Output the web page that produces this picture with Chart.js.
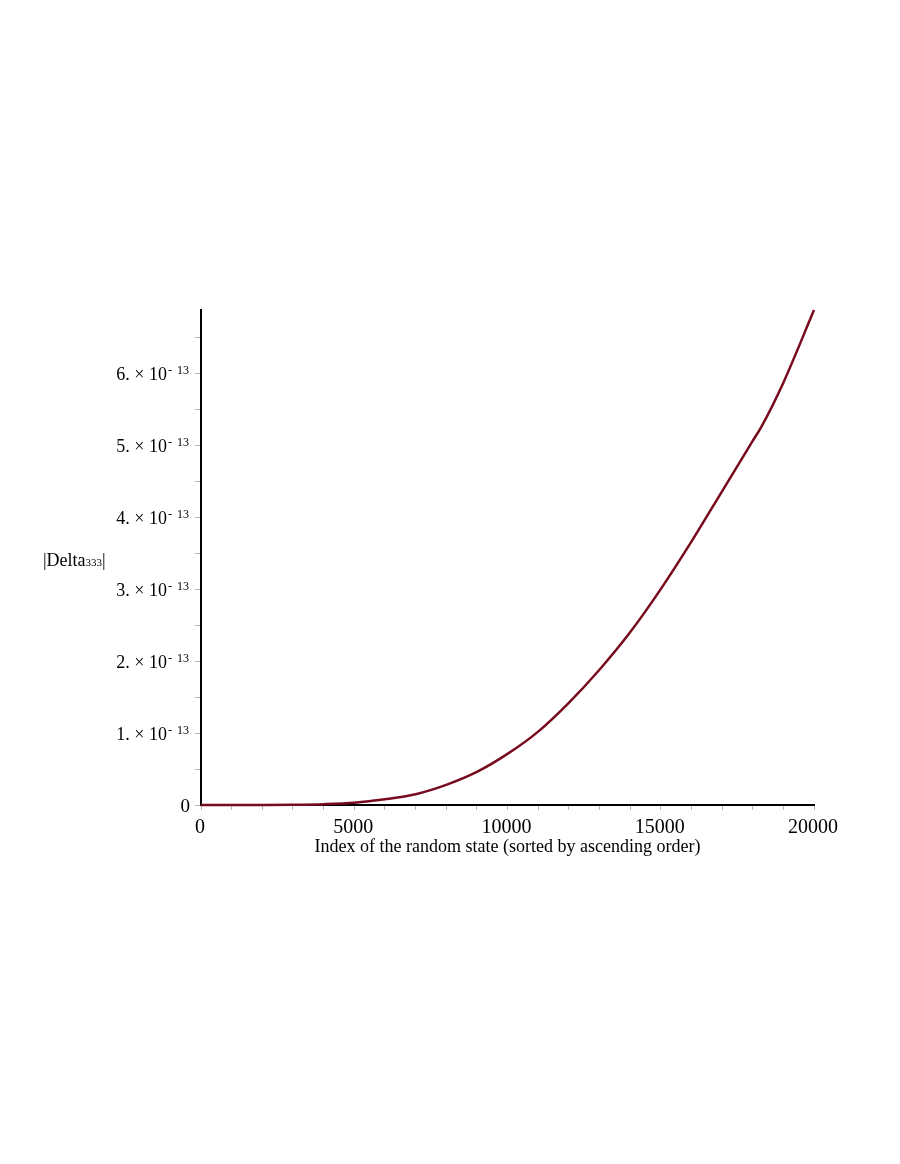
<!DOCTYPE html>
<html>
<head>
<meta charset="utf-8">
<title>|Delta333| vs index</title>
<script src="https://cdn.jsdelivr.net/npm/chart.js@4.4.1/dist/chart.umd.min.js"></script>
<style>
  html, body { margin: 0; padding: 0; background: #fff; }
  #wrap { width: 900px; height: 1164px; position: relative; }
</style>
</head>
<body>
<div id="wrap"><canvas id="deltaChart" width="900" height="1164"></canvas></div>
<script>
// sorted state index and |Delta333|
const stateIndex = [0, 1000, 2000, 3000, 4000, 5000, 6000, 7000, 8000, 9000, 10000,
  11000, 12000, 13000, 14000, 15000, 16000, 17000, 18000, 18300, 19000, 20000];
const deltaValues = [0, 0.0001e-13, 0.001e-13, 0.004e-13, 0.012e-13, 0.032e-13, 0.08e-13,
  0.15e-13, 0.28e-13, 0.46e-13, 0.71e-13, 1.02e-13, 1.42e-13, 1.88e-13, 2.40e-13,
  3.00e-13, 3.66e-13, 4.36e-13, 5.06e-13, 5.27e-13, 5.87e-13, 6.88e-13];

// axis labels
const xTickLabels = [0, 5000, 10000, 15000, 20000];
const yTickMantissas = [0, 1, 2, 3, 4, 5, 6];
const yExponent = -13;

const SERIF = '"Liberation Serif", "DejaVu Serif", serif';

// draws tick labels (with superscript exponents) and axis titles
const labelPlugin = {
  id: 'mapleLabels',
  afterDraw(chart) {
    const ctx = chart.ctx;
    const xs = chart.scales.x;
    const ys = chart.scales.y;
    ctx.save();
    ctx.fillStyle = '#000';
    ctx.textBaseline = 'alphabetic';

    // y tick labels
    yTickMantissas.forEach(m => {
      const py = ys.getPixelForValue(m * Math.pow(10, yExponent));
      if (m === 0) {
        ctx.font = '19px ' + SERIF;
        ctx.textAlign = 'right';
        ctx.fillText('0', 190, py + 7);
        return;
      }
      ctx.font = '12px ' + SERIF;
      ctx.textAlign = 'right';
      ctx.fillText(String(-yExponent), 189, py + 1);
      const numW = ctx.measureText(String(-yExponent)).width;
      ctx.fillText('-', 189 - numW - 5, py + 1);
      ctx.font = '18px ' + SERIF;
      ctx.fillText(m + '. \u00d7 10', 167, py + 7);
    });

    // x tick labels
    ctx.font = '20px ' + SERIF;
    ctx.textAlign = 'center';
    xTickLabels.forEach(v => {
      ctx.fillText(String(v), xs.getPixelForValue(v) - 1, 833);
    });

    // x title
    ctx.font = '18px ' + SERIF;
    ctx.fillText('Index of the random state (sorted by ascending order)', (xs.left + xs.right) / 2, 852);

    // y title: |Delta333|
    ctx.textAlign = 'left';
    let tx = 43;
    const ty = 566;
    ctx.font = '18px ' + SERIF;
    ctx.fillText('|Delta', tx, ty);
    tx += ctx.measureText('|Delta').width;
    ctx.font = '11px ' + SERIF;
    ctx.fillText('333', tx, ty);
    tx += ctx.measureText('333').width;
    ctx.font = '18px ' + SERIF;
    ctx.fillText('|', tx, ty);

    ctx.restore();
  }
};

const ctx = document.getElementById('deltaChart');
new Chart(ctx, {
  type: 'line',
  data: {
    datasets: [{
      data: stateIndex.map((x, i) => ({ x: x, y: deltaValues[i] })),
      borderColor: 'rgb(120, 10, 30)',
      borderWidth: 2.5,
      pointRadius: 0,
      cubicInterpolationMode: 'monotone',
      fill: false,
      clip: false
    }]
  },
  options: {
    responsive: false,
    animation: false,
    layout: { padding: { left: 0, top: 310, right: 86, bottom: 0 } },
    plugins: {
      legend: { display: false },
      tooltip: { enabled: false }
    },
    scales: {
      x: {
        type: 'linear',
        min: 0,
        max: 20000,
        afterFit: (scale) => { scale.height = 1164 - 805; },
        border: { color: '#000', width: 2 },
        grid: {
          drawOnChartArea: false,
          drawTicks: true,
          tickLength: 5,
          color: '#b5b5b5'
        },
        ticks: { display: false, stepSize: 1000, autoSkip: false }
      },
      y: {
        type: 'linear',
        min: 0,
        max: 6.88e-13,
        afterFit: (scale) => { scale.width = 201; },
        border: { color: '#000', width: 2 },
        grid: {
          drawOnChartArea: false,
          drawTicks: true,
          tickLength: 6,
          color: '#b5b5b5'
        },
        ticks: { display: false, stepSize: 0.5e-13, includeBounds: false, autoSkip: false }
      }
    }
  },
  plugins: [labelPlugin]
});
</script>
</body>
</html>
